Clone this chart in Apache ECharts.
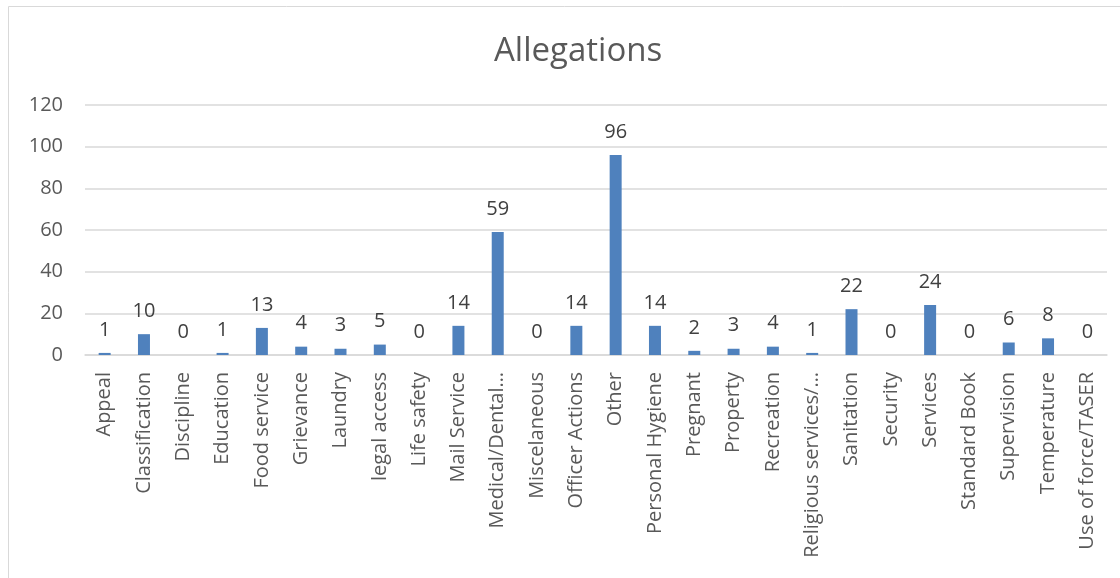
<!DOCTYPE html>
<html>
<head>
<meta charset="utf-8">
<title>Allegations</title>
<script src="https://cdn.jsdelivr.net/npm/echarts@6/dist/echarts.min.js"></script>
<style>
  html, body { margin: 0; padding: 0; background: #fff; }
  #chart { width: 1120px; height: 578px; }
</style>
</head>
<body>
<div id="chart"></div>
<script>
// categories and counts
var categories = [
  "Appeal", "Classification", "Discipline", "Education", "Food service",
  "Grievance", "Laundry", "legal access", "Life safety", "Mail Service",
  "Medical/Dental…", "Miscelaneous", "Officer Actions", "Other",
  "Personal Hygiene", "Pregnant", "Property", "Recreation",
  "Religious services/…", "Sanitation", "Security", "Services",
  "Standard Book", "Supervision", "Temperature", "Use of force/TASER"
];
var counts = [1, 10, 0, 1, 13, 4, 3, 5, 0, 14, 59, 0, 14, 96, 14, 2, 3, 4, 1, 22, 0, 24, 0, 6, 8, 0];
var yTicks = [0, 20, 40, 60, 80, 100, 120];

var font = "'Open Sans', 'Noto Sans', sans-serif";
var chart = echarts.init(document.getElementById("chart"));
chart.setOption({
  animation: false,
  graphic: [{
    type: "rect",
    shape: { x: 8.5, y: 6.5, width: 1130, height: 590 },
    style: { fill: "none", stroke: "#d9d9d9", lineWidth: 1 },
    silent: true
  }],
  title: {
    text: "Allegations",
    left: 489,
    top: 30,
    textStyle: { fontFamily: font, fontSize: 33, fontWeight: "normal", color: "#595959" }
  },
  grid: { left: 85, right: 13, top: 105, bottom: 223, containLabel: false },
  xAxis: {
    type: "category",
    data: categories,
    axisLine: { lineStyle: { color: "#d9d9d9", width: 1.5 } },
    axisTick: { show: false },
    axisLabel: {
      rotate: 90,
      interval: 0,
      margin: 17,
      fontFamily: font,
      fontSize: 20,
      color: "#595959"
    }
  },
  yAxis: {
    type: "value",
    min: yTicks[0],
    max: yTicks[yTicks.length - 1],
    interval: 20,
    axisLine: { show: false },
    axisTick: { show: false },
    splitLine: { lineStyle: { color: "#d9d9d9", width: 1.5 } },
    axisLabel: { fontFamily: font, fontSize: 20, color: "#595959", margin: 22 }
  },
  series: [{
    type: "bar",
    data: counts,
    barWidth: 12,
    itemStyle: { color: "#4f81bd" },
    label: {
      show: true,
      position: "top",
      distance: 13,
      fontFamily: font,
      fontSize: 20,
      color: "#404040"
    }
  }]
});
</script>
</body>
</html>
